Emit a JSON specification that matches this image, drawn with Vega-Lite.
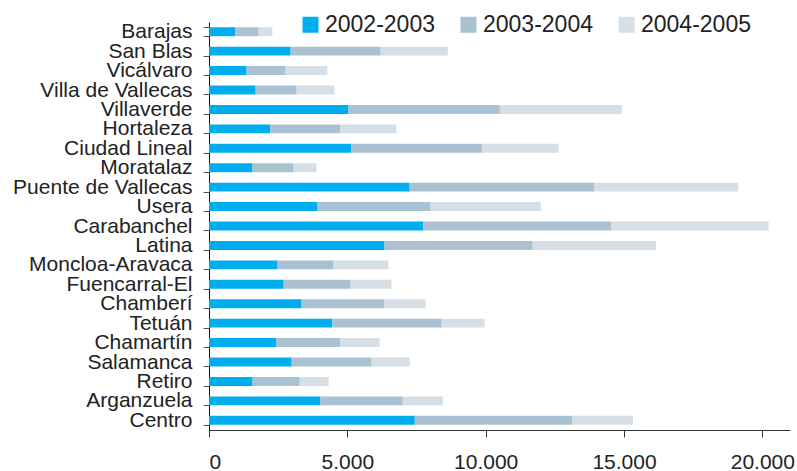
{
  "$schema": "https://vega.github.io/schema/vega-lite/v6.json",
  "width": 581,
  "height": 408,
  "autosize": {"type": "none"},
  "padding": {"left": 209, "top": 22, "right": 7, "bottom": 41},
  "background": "white",
  "config": {"view": {"stroke": null}, "font": "Liberation Sans"},
  "datasets": {
    "rows": [
      {"distrito": "Barajas", "periodo": "2002-2003", "valor": 951},
      {"distrito": "Barajas", "periodo": "2003-2004", "valor": 844},
      {"distrito": "Barajas", "periodo": "2004-2005", "valor": 495},
      {"distrito": "San Blas", "periodo": "2002-2003", "valor": 2952},
      {"distrito": "San Blas", "periodo": "2003-2004", "valor": 3256},
      {"distrito": "San Blas", "periodo": "2004-2005", "valor": 2424},
      {"distrito": "Vicálvaro", "periodo": "2002-2003", "valor": 1360},
      {"distrito": "Vicálvaro", "periodo": "2003-2004", "valor": 1411},
      {"distrito": "Vicálvaro", "periodo": "2004-2005", "valor": 1509},
      {"distrito": "Villa de Vallecas", "periodo": "2002-2003", "valor": 1686},
      {"distrito": "Villa de Vallecas", "periodo": "2003-2004", "valor": 1483},
      {"distrito": "Villa de Vallecas", "periodo": "2004-2005", "valor": 1364},
      {"distrito": "Villaverde", "periodo": "2002-2003", "valor": 5040},
      {"distrito": "Villaverde", "periodo": "2003-2004", "valor": 5472},
      {"distrito": "Villaverde", "periodo": "2004-2005", "valor": 4410},
      {"distrito": "Hortaleza", "periodo": "2002-2003", "valor": 2219},
      {"distrito": "Hortaleza", "periodo": "2003-2004", "valor": 2531},
      {"distrito": "Hortaleza", "periodo": "2004-2005", "valor": 2022},
      {"distrito": "Ciudad Lineal", "periodo": "2002-2003", "valor": 5149},
      {"distrito": "Ciudad Lineal", "periodo": "2003-2004", "valor": 4732},
      {"distrito": "Ciudad Lineal", "periodo": "2004-2005", "valor": 2752},
      {"distrito": "Moratalaz", "periodo": "2002-2003", "valor": 1572},
      {"distrito": "Moratalaz", "periodo": "2003-2004", "valor": 1486},
      {"distrito": "Moratalaz", "periodo": "2004-2005", "valor": 826},
      {"distrito": "Puente de Vallecas", "periodo": "2002-2003", "valor": 7254},
      {"distrito": "Puente de Vallecas", "periodo": "2003-2004", "valor": 6680},
      {"distrito": "Puente de Vallecas", "periodo": "2004-2005", "valor": 5200},
      {"distrito": "Usera", "periodo": "2002-2003", "valor": 3925},
      {"distrito": "Usera", "periodo": "2003-2004", "valor": 4086},
      {"distrito": "Usera", "periodo": "2004-2005", "valor": 3980},
      {"distrito": "Carabanchel", "periodo": "2002-2003", "valor": 7749},
      {"distrito": "Carabanchel", "periodo": "2003-2004", "valor": 6800},
      {"distrito": "Carabanchel", "periodo": "2004-2005", "valor": 5680},
      {"distrito": "Latina", "periodo": "2002-2003", "valor": 6346},
      {"distrito": "Latina", "periodo": "2003-2004", "valor": 5355},
      {"distrito": "Latina", "periodo": "2004-2005", "valor": 4450},
      {"distrito": "Moncloa-Aravaca", "periodo": "2002-2003", "valor": 2480},
      {"distrito": "Moncloa-Aravaca", "periodo": "2003-2004", "valor": 2022},
      {"distrito": "Moncloa-Aravaca", "periodo": "2004-2005", "valor": 1981},
      {"distrito": "Fuencarral-El", "periodo": "2002-2003", "valor": 2700},
      {"distrito": "Fuencarral-El", "periodo": "2003-2004", "valor": 2421},
      {"distrito": "Fuencarral-El", "periodo": "2004-2005", "valor": 1473},
      {"distrito": "Chamberí", "periodo": "2002-2003", "valor": 3347},
      {"distrito": "Chamberí", "periodo": "2003-2004", "valor": 2999},
      {"distrito": "Chamberí", "periodo": "2004-2005", "valor": 1486},
      {"distrito": "Tetuán", "periodo": "2002-2003", "valor": 4461},
      {"distrito": "Tetuán", "periodo": "2003-2004", "valor": 3948},
      {"distrito": "Tetuán", "periodo": "2004-2005", "valor": 1555},
      {"distrito": "Chamartín", "periodo": "2002-2003", "valor": 2439},
      {"distrito": "Chamartín", "periodo": "2003-2004", "valor": 2311},
      {"distrito": "Chamartín", "periodo": "2004-2005", "valor": 1417},
      {"distrito": "Salamanca", "periodo": "2002-2003", "valor": 2989},
      {"distrito": "Salamanca", "periodo": "2003-2004", "valor": 2889},
      {"distrito": "Salamanca", "periodo": "2004-2005", "valor": 1376},
      {"distrito": "Retiro", "periodo": "2002-2003", "valor": 1577},
      {"distrito": "Retiro", "periodo": "2003-2004", "valor": 1701},
      {"distrito": "Retiro", "periodo": "2004-2005", "valor": 1049},
      {"distrito": "Arganzuela", "periodo": "2002-2003", "valor": 4026},
      {"distrito": "Arganzuela", "periodo": "2003-2004", "valor": 2978},
      {"distrito": "Arganzuela", "periodo": "2004-2005", "valor": 1448},
      {"distrito": "Centro", "periodo": "2002-2003", "valor": 7439},
      {"distrito": "Centro", "periodo": "2003-2004", "valor": 5680},
      {"distrito": "Centro", "periodo": "2004-2005", "valor": 2207}
    ]
  },
  "data": {"name": "rows"},
  "mark": {"type": "bar"},
  "encoding": {
    "y": {
      "field": "distrito",
      "type": "nominal",
      "sort": null,
      "scale": {"paddingInner": 0.54, "paddingOuter": 0.27},
      "axis": {
        "title": null,
        "tickBand": "extent",
        "tickSize": 6,
        "tickColor": "#555555",
        "domainColor": "#111111",
        "labelFontSize": 21,
        "labelColor": "#222222",
        "labelPadding": 11,
        "labelLimit": 400
      }
    },
    "x": {
      "field": "valor",
      "type": "quantitative",
      "stack": "zero",
      "scale": {"domain": [0, 21000], "nice": false},
      "axis": {
        "title": null,
        "grid": false,
        "values": [0, 5000, 10000, 15000, 20000],
        "labelExpr": "replace(format(datum.value, ','), ',', '.')",
        "tickSize": 7,
        "labelPadding": 14,
        "labelFontSize": 21,
        "labelColor": "#222222",
        "domainColor": "#333333",
        "tickColor": "#333333"
      }
    },
    "color": {
      "field": "periodo",
      "type": "nominal",
      "scale": {
        "domain": ["2002-2003", "2003-2004", "2004-2005"],
        "range": ["#00aeef", "#a9c1d0", "#d6dfe5"]
      },
      "legend": {
        "title": null,
        "orient": "none",
        "direction": "horizontal",
        "legendX": 90,
        "legendY": -9,
        "symbolType": "square",
        "symbolSize": 256,
        "symbolOpacity": 1,
        "symbolStrokeWidth": 0,
        "labelFontSize": 23,
        "labelColor": "#222222",
        "labelOffset": 3,
        "columnPadding": 22,
        "labelLimit": 300
      }
    }
  }
}
